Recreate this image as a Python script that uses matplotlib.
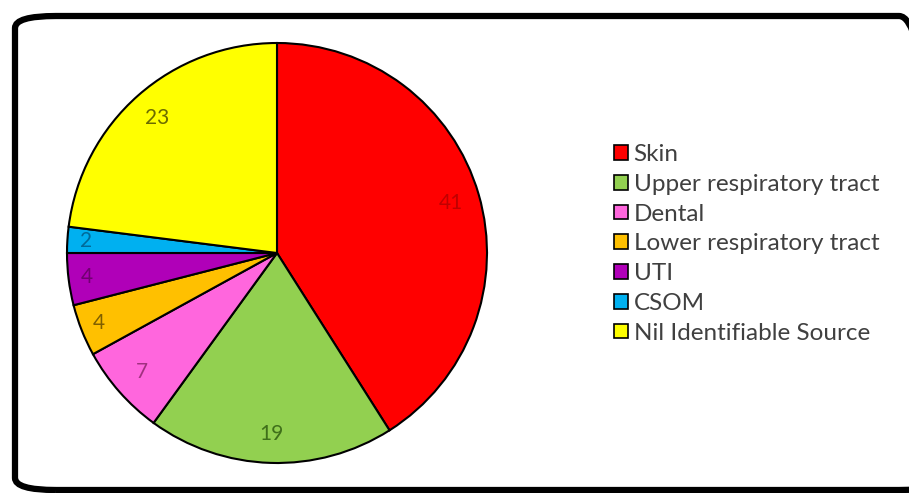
import matplotlib
matplotlib.use("Agg")
import matplotlib.pyplot as plt
from matplotlib.patches import FancyBboxPatch, Patch

# infection source breakdown (%)
sources = ["Skin", "Upper respiratory tract", "Dental", "Lower respiratory tract",
           "UTI", "CSOM", "Nil Identifiable Source"]
values = [41, 19, 7, 4, 4, 2, 23]
colors = ["#FF0000", "#92D050", "#FF66DD", "#FFC000", "#B000B8", "#00B0F0", "#FFFF00"]
label_colors = ["#C00000", "#3F6F1A", "#A0307F", "#7F5F00", "#700070", "#006A99", "#6B6B00"]

plt.rcParams["font.family"] = ["Lato", "DejaVu Sans"]

W, H = 909, 493
fig = plt.figure(figsize=(W / 100, H / 100), dpi=100)

# rounded frame around the chart (right edge runs off the image)
frame = FancyBboxPatch((15 / W, 3 / H), 925 / W, 474 / H,
                       boxstyle="round,pad=0,rounding_size=0.045",
                       transform=fig.transFigure, fill=False,
                       edgecolor="black", linewidth=4.5, mutation_aspect=H / W)
fig.patches.append(frame)

cx, cy, r = 277, 253, 210
ax = fig.add_axes([(cx - r) / W, (H - cy - r) / H, 2 * r / W, 2 * r / H])
wedges, texts = ax.pie(values, colors=colors, startangle=90, counterclock=False,
                       labels=[str(v) for v in values], labeldistance=0.86,
                       wedgeprops=dict(edgecolor="black", linewidth=1.5))
for t, c, v in zip(texts, label_colors, values):
    t.set_color(c)
    t.set_fontsize(15)
    t.set_ha("center")
    t.set_va("center")
    if v <= 4:
        x, y = t.get_position()
        t.set_position((x * 1.06, y * 1.06))
ax.set_xlim(-1, 1)
ax.set_ylim(-1, 1)
ax.set_aspect("equal")

handles = [Patch(facecolor=c, edgecolor="black", linewidth=1.2) for c in colors]
leg = fig.legend(handles, sources, loc="upper left",
                 bbox_to_anchor=(602 / W, (H - 132) / H), frameon=False,
                 fontsize=17.5, handlelength=0.55, handleheight=0.55,
                 handletextpad=0.25, labelspacing=0.36, borderpad=0)
for t in leg.get_texts():
    t.set_color("#404040")

fig.savefig("out.png", dpi=100)
